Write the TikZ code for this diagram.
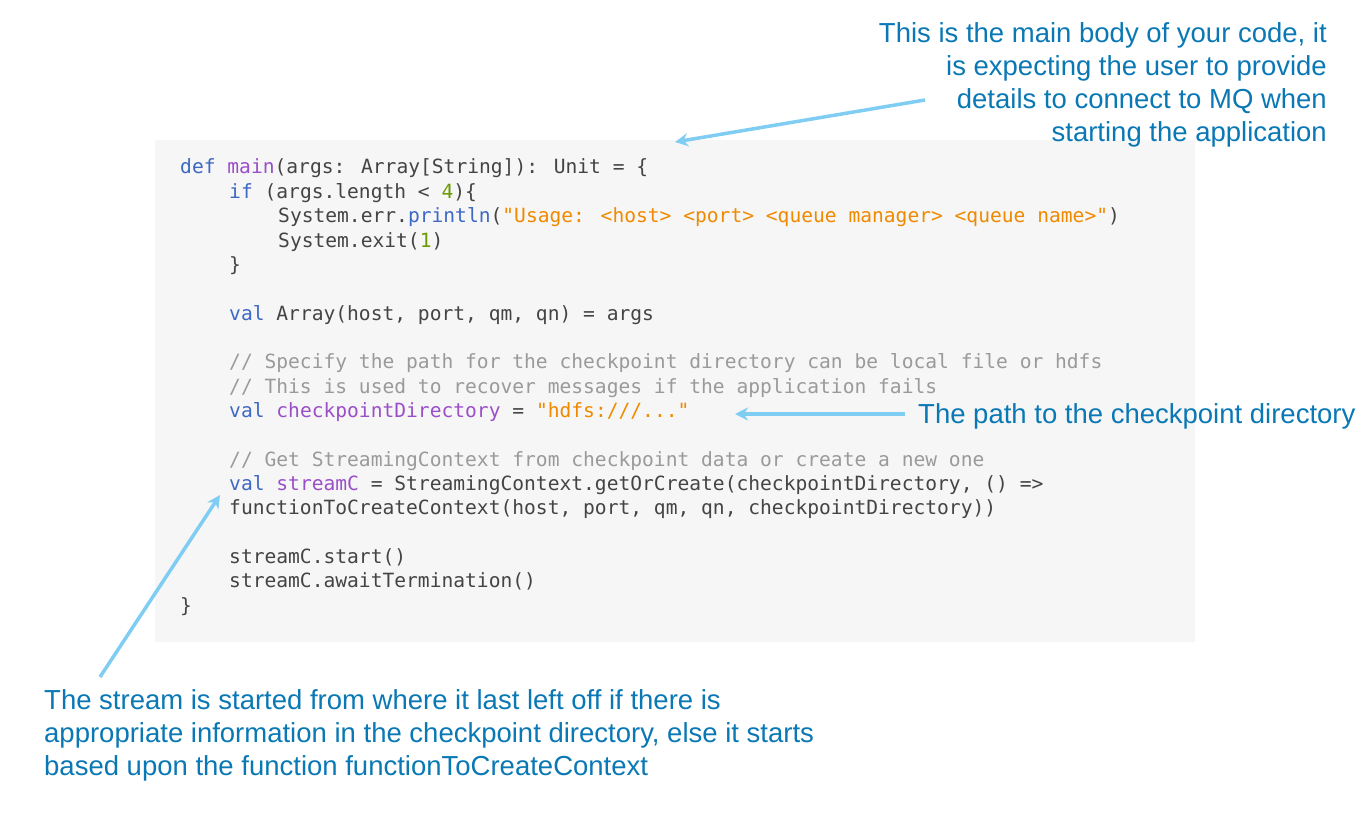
\documentclass[tikz,border=0pt]{standalone}
\usepackage{fontspec}
\setmainfont{Liberation Sans}
\newfontfamily\codefont{DejaVu Sans Mono}
\definecolor{kw}{HTML}{3D68C4}
\definecolor{fn}{HTML}{9A4FC9}
\definecolor{st}{HTML}{EF8A00}
\definecolor{nm}{HTML}{6A9A00}
\definecolor{cm}{HTML}{9A9A9A}
\definecolor{tx}{HTML}{444444}
\definecolor{note}{HTML}{0A78B4}
\definecolor{arr}{HTML}{80CDF4}
\definecolor{bg}{HTML}{F6F6F6}
\newcommand\cdK[1]{\textcolor{kw}{#1}}
\newcommand\cdF[1]{\textcolor{fn}{#1}}
\newcommand\cdS[1]{\textcolor{st}{#1}}
\newcommand\cdN[1]{\textcolor{nm}{#1}}
\newcommand\cdC[1]{\textcolor{cm}{#1}}
\usetikzlibrary{arrows.meta}
\begin{document}
\begin{tikzpicture}[x=1pt,y=-1pt,
  code/.style={anchor=base west,inner sep=0pt,font=\codefont\fontsize{19.6}{22}\selectfont,text=tx},
  notetext/.style={inner sep=0pt,font=\fontsize{27.5}{33}\selectfont,text=note},
  callout/.style={draw=arr,line width=3.5pt,-{Stealth[length=13pt,width=13pt]}}]
\useasboundingbox (0,0) rectangle (1367,829);
\fill[bg] (155,140) rectangle (1195,642);
\def\codeline#1#2#3{\node[code] (c#1) at (#2,{174+24.35*(#1-1)}) {#3};}
\codeline{1}{180}{\cdK{def} \cdF{main}(args: Array[String]): Unit = \{}
\codeline{2}{229}{\cdK{if} (args.length < \cdN{4})\{}
\codeline{3}{278}{System.err.\cdK{println}(\cdS{"Usage: <host> <port> <queue manager> <queue name>"})}
\codeline{4}{278}{System.exit(\cdN{1})}
\codeline{5}{229}{\}}
\codeline{7}{229}{\cdK{val} Array(host, port, qm, qn) = args}
\codeline{9}{229}{\cdC{// Specify the path for the checkpoint directory can be local file or hdfs}}
\codeline{10}{229}{\cdC{// This is used to recover messages if the application fails}}
\codeline{11}{229}{\cdK{val} \cdF{checkpointDirectory} = \cdS{"hdfs:///..."}}
\codeline{13}{229}{\cdC{// Get StreamingContext from checkpoint data or create a new one}}
\codeline{14}{229}{\cdK{val} \cdF{streamC} = StreamingContext.getOrCreate(checkpointDirectory, () =>}
\codeline{15}{229}{functionToCreateContext(host, port, qm, qn, checkpointDirectory))}
\codeline{17}{229}{streamC.start()}
\codeline{18}{229}{streamC.awaitTermination()}
\codeline{19}{180}{\}}
\node[notetext,align=right,anchor=north east] (n1) at (1327,22) {This is the main body of your code, it\\is expecting the user to provide\\details to connect to MQ when\\starting the application};
\node[notetext,anchor=west] (n2) at (918,416) {The path to the checkpoint directory};
\node[notetext,align=left,anchor=north west] (n3) at (44,689) {The stream is started from where it last left off if there is\\appropriate information in the checkpoint directory, else it starts\\based upon the function functionToCreateContext};
\coordinate (a1s) at (925,100); \coordinate (a1e) at (675,142);
\coordinate (a2s) at (905,414); \coordinate (a2e) at (735,414);
\coordinate (a3s) at (100,677); \coordinate (a3e) at (220,495);
\draw[callout] (a1s) -- (a1e);
\draw[callout] (a2s) -- (a2e);
\draw[callout] (a3s) -- (a3e);
\end{tikzpicture}
\end{document}
